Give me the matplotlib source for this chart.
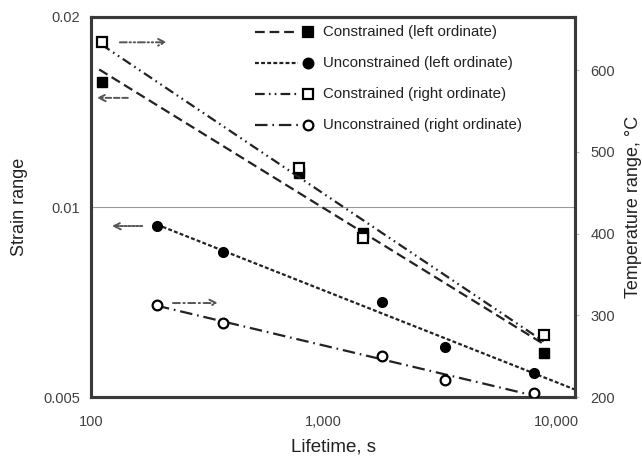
import numpy as np
import matplotlib
matplotlib.use('Agg')
import matplotlib.pyplot as plt
from matplotlib.ticker import FixedLocator, NullLocator

plt.rcParams['font.family'] = ['Liberation Sans', 'DejaVu Sans']
plt.rcParams['lines.scale_dashes'] = False

life_con = [111, 785, 1480, 8810]
strain_con = [0.01578, 0.01132, 0.0091, 0.00587]
temp_con = [634, 480, 394, 276]

life_unc = [192, 370, 1770, 3300, 7980]
strain_unc = [0.00933, 0.00849, 0.00707, 0.0060, 0.00546]
temp_unc = [313, 291, 250, 221, 205]

labels = ['Constrained (left ordinate)', 'Unconstrained (left ordinate)',
          'Constrained (right ordinate)', 'Unconstrained (right ordinate)']

# arrows telling which ordinate belongs to each series: (x_from, x_to, y)
arrow_con_left = (144, 106, 0.01489)
arrow_unc_left = (166, 123, 0.00933)
arrow_con_right = (133, 212, 634)
arrow_unc_right = (225, 352, 315)

x_ticks = [100, 1000, 10000]
x_ticklabels = ['100', '1,000', '10,000']
left_ticks = [0.005, 0.01, 0.02]
left_ticklabels = ['0.005', '0.01', '0.02']
right_ticks = [200, 300, 400, 500, 600]

dash_con_l = (0, (7, 3.5))
dash_unc_l = (0, (2.8, 1.6))
dash_con_r = (0, (7, 3, 1.2, 3, 1.2, 3))
dash_unc_r = (0, (9, 3.5, 1.2, 3.5))
ink = '#222222'
txt = '#404040'


def power_fit(x, y, xs):
    k, c = np.polyfit(np.log10(x), np.log10(y), 1)
    return 10 ** (k * np.log10(xs) + c)


def log_fit(x, y, xs):
    k, c = np.polyfit(np.log10(x), y, 1)
    return k * np.log10(xs) + c


fig = plt.figure(figsize=(6.42, 4.59), dpi=100)
ax = fig.add_axes([0.1417, 0.135, 0.754, 0.828])
ax2 = ax.twinx()

ax.set_xscale('log')
ax.set_yscale('log')
ax.set_xlim(100, 12000)
ax.set_ylim(0.005, 0.02)
ax2.set_ylim(200, 665)

xs = np.logspace(np.log10(life_con[0]) - 0.01, np.log10(life_con[-1]), 100)
ax.plot(xs, power_fit(life_con, strain_con, xs), color=ink, lw=1.6, ls=dash_con_l)
xs = np.logspace(np.log10(life_unc[0]), np.log10(12000), 100)
ax.plot(xs, power_fit(life_unc, strain_unc, xs), color=ink, lw=1.6, ls=dash_unc_l)
xs = np.logspace(np.log10(life_con[0]), np.log10(life_con[-1]), 100)
ax2.plot(xs, log_fit(life_con, temp_con, xs), color=ink, lw=1.6, ls=dash_con_r)
xs = np.logspace(np.log10(life_unc[0]), np.log10(8600), 100)
ax2.plot(xs, log_fit(life_unc, temp_unc, xs), color=ink, lw=1.6, ls=dash_unc_r)

ax.plot(life_con, strain_con, 's', color='black', ms=7, zorder=4)
ax.plot(life_unc, strain_unc, 'o', color='black', ms=7, zorder=4)
ax2.plot(life_con, temp_con, 's', mfc='white', mec='black', mew=1.6, ms=7, zorder=4)
ax2.plot(life_unc, temp_unc, 'o', mfc='white', mec='black', mew=1.6, ms=7, zorder=4)

# legend drawn by hand: line sample, then marker, then text
styles = [(dash_con_l, 's', 'black'), (dash_unc_l, 'o', 'black'),
          (dash_con_r, 's', 'white'), (dash_unc_r, 'o', 'white')]
rows = [0.9605, 0.879, 0.797, 0.716]
for (ls, mk, fc), lab, yy in zip(styles, labels, rows):
    ax2.plot([0.339, 0.428], [yy, yy], transform=ax2.transAxes, color=ink, lw=1.6, ls=ls, clip_on=False)
    ax2.plot([0.448], [yy], transform=ax2.transAxes, marker=mk, ms=7, mfc=fc, mec='black', mew=1.6,
             ls='none', clip_on=False)
    ax2.text(0.479, yy, lab, transform=ax2.transAxes, fontsize=10.8, color=ink, va='center', ha='left')

arrow_kw = dict(arrowstyle='->', color='#555555', lw=1.4, shrinkA=0, shrinkB=0, mutation_scale=12)
ax.annotate('', xy=(arrow_con_left[1], arrow_con_left[2]), xytext=(arrow_con_left[0], arrow_con_left[2]),
            arrowprops=dict(linestyle=(0, (4, 2)), **arrow_kw))
ax.annotate('', xy=(arrow_unc_left[1], arrow_unc_left[2]), xytext=(arrow_unc_left[0], arrow_unc_left[2]),
            arrowprops=dict(linestyle=(0, (1.6, 1.2)), **arrow_kw))
ax2.annotate('', xy=(arrow_con_right[1], arrow_con_right[2]), xytext=(arrow_con_right[0], arrow_con_right[2]),
             arrowprops=dict(linestyle=(0, (5, 2, 1, 2, 1, 2)), **arrow_kw))
ax2.annotate('', xy=(arrow_unc_right[1], arrow_unc_right[2]), xytext=(arrow_unc_right[0], arrow_unc_right[2]),
             arrowprops=dict(linestyle=(0, (5, 2.5, 1, 2.5)), **arrow_kw))

ax.xaxis.set_major_locator(FixedLocator(x_ticks))
ax.xaxis.set_minor_locator(NullLocator())
ax.set_xticklabels(x_ticklabels)
ax.yaxis.set_major_locator(FixedLocator(left_ticks))
ax.yaxis.set_minor_locator(NullLocator())
ax.set_yticklabels(left_ticklabels)
ax2.set_yticks(right_ticks)

ax.tick_params(axis='both', length=0, labelsize=10.5, labelcolor=txt, pad=8)
ax.tick_params(axis='x', pad=13)
ax2.tick_params(axis='y', length=3, color='#bbbbbb', labelsize=10.5, labelcolor=txt, pad=8)

ax.grid(True, axis='y', which='major', color='#999999', lw=0.8)
ax.set_axisbelow(True)

for a in (ax, ax2):
    for s in a.spines.values():
        s.set_linewidth(2.2)
        s.set_color('#3a3a3a')

ax.set_xlabel('Lifetime, s', fontsize=13.5, color=ink, labelpad=7)
ax.set_ylabel('Strain range', fontsize=13, color=ink, labelpad=11)
ax2.set_ylabel('Temperature range, °C', fontsize=13, color=ink, labelpad=7)

fig.savefig('out.png', dpi=100)
